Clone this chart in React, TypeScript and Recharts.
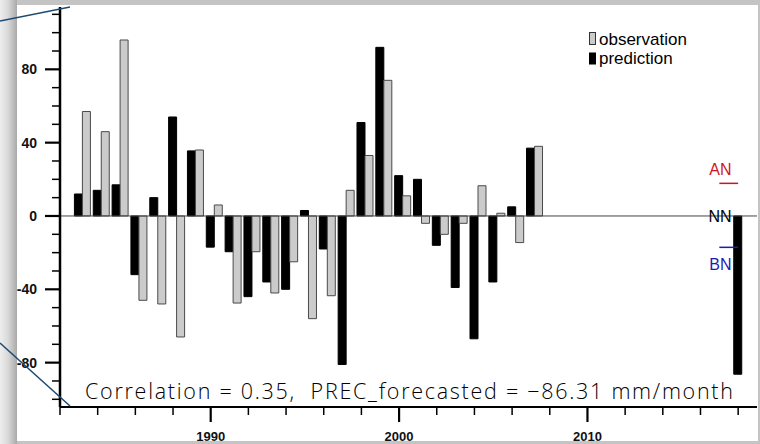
import React from 'react';
import { BarChart, Bar, XAxis, YAxis, ReferenceLine, Legend, Rectangle, Label } from 'recharts';

// ---- data ----
const years = [
  1983, 1984, 1985, 1986, 1987, 1988, 1989, 1990, 1991, 1992, 1993, 1994, 1995,
  1996, 1997, 1998, 1999, 2000, 2001, 2002, 2003, 2004, 2005, 2006, 2007, 2018,
];
const observation = [
  57, 46, 96, -46, -48, -66, 36, 6, -47.5, -19.5, -42, -25, -56,
  -43.5, 14, 33, 74, 11, -4, -10, -4, 16.5, 1.5, -14.5, 38, null,
];
const prediction = [
  12, 14, 17, -32, 10, 54, 35.5, -17, -19.5, -44, -36, -40, 3,
  -18, -81, 51, 92, 22, 20, -16, -39, -67, -36, 5, 37, -86.31,
];
const xTicks = [
  1982, 1984, 1986, 1988, 1990, 1992, 1994, 1996, 1998, 2000,
  2002, 2004, 2006, 2008, 2010, 2012, 2014, 2016, 2018,
];
const xLabelTicks = [1990, 2000, 2010];
const yTicks = [
  -100, -90, -80, -70, -60, -50, -40, -30, -20, -10, 0,
  10, 20, 30, 40, 50, 60, 70, 80, 90, 100, 110,
];
const yLabelTicks = [-80, -40, 0, 40, 80];
const xDomain = [1982, 2019];
const yDomain = [-104.2, 114];
const anThreshold = 17.8;
const bnThreshold = -17.1;
const thresholdSpan = [2017, 2018];
const correlation = 0.35;
const forecastValue = -86.31;

const data = years.map((year, i) => ({
  year,
  observation: observation[i],
  prediction: prediction[i],
}));

const FONT = 'Liberation Sans, Arial, Helvetica, sans-serif';

const makeShape = (fill: string, stroke: string) => (props: any) => {
  const { x, y, width, height } = props;
  return (
    <Rectangle
      x={x + 4}
      y={y}
      width={width}
      height={height}
      fill={fill}
      stroke={stroke}
      strokeWidth={1}
    />
  );
};
const predShape = makeShape('#000000', '#000000');
const obsShape = makeShape('#cbcbcb', '#4a4a4a');

const XTick = (props: any) => {
  const { x, y, payload } = props;
  const major = xLabelTicks.includes(payload.value);
  return (
    <g>
      <line x1={x} x2={x} y1={y} y2={y + (major ? 15 : 8)} stroke="#000" strokeWidth={major ? 2.2 : 1.5} />
      {major && (
        <text x={x} y={y + 34} textAnchor="middle" fontSize={13} fontWeight="bold" fontFamily={FONT} fill="#111">
          {payload.value}
        </text>
      )}
    </g>
  );
};

const YTick = (props: any) => {
  const { x, y, payload } = props;
  const major = yLabelTicks.includes(payload.value);
  return (
    <g>
      <line x1={x - (major ? 15 : 8)} x2={x} y1={y} y2={y} stroke="#000" strokeWidth={major ? 2.2 : 1.5} />
      {major && (
        <text x={x - 23} y={y + 5} textAnchor="end" fontSize={14} fontWeight="bold" fontFamily={FONT} fill="#111">
          {payload.value}
        </text>
      )}
    </g>
  );
};

const LegendContent = () => (
  <svg width={130} height={46}>
    <rect x={4.5} y={4.5} width={6} height={12} fill="#cbcbcb" stroke="#333" strokeWidth={1} />
    <text x={14} y={16.5} fontSize={17} fontFamily={FONT} fill="#000">observation</text>
    <rect x={4} y={24.5} width={7} height={12} fill="#000" />
    <text x={14} y={36} fontSize={17} fontFamily={FONT} fill="#000">prediction</text>
  </svg>
);

const anLabel = (p: any) => {
  const vb = p.viewBox || {};
  return (
    <text x={vb.x + 1} y={vb.y - 8} textAnchor="middle" fontSize={16} fontFamily={FONT} fill="#d0141e">AN</text>
  );
};
const bnLabel = (p: any) => {
  const vb = p.viewBox || {};
  return (
    <text x={vb.x + 1} y={vb.y + 23} textAnchor="middle" fontSize={16} fontFamily={FONT} fill="#1c1cb4">BN</text>
  );
};
const nnLabel = (p: any) => {
  const vb = p.viewBox || {};
  return (
    <text x={vb.x + vb.width - 37} y={vb.y + 6} textAnchor="middle" fontSize={16} fontFamily={FONT} fill="#000">NN</text>
  );
};

const statText = `Correlation = ${correlation.toFixed(2)},  PREC_forecasted = ${forecastValue < 0 ? '\u2212' : ''}${Math.abs(forecastValue).toFixed(2)} mm/month`;

export default function App() {
  return (
    <div style={{ position: 'absolute', left: 0, top: 0, width: 760, height: 444, background: '#c4c4c4', overflow: 'hidden' }}>
      <div
        style={{
          position: 'absolute', left: 0, top: 0, width: 17, height: 444,
          background: 'linear-gradient(to right, #eeeeee 0%, #dadada 45%, #a9a9a9 100%)',
        }}
      />
      <div style={{ position: 'absolute', left: 17, top: 5, width: 741, height: 436, background: '#ffffff' }} />
      <div style={{ position: 'absolute', left: 0, top: 0 }}>
        <BarChart
          width={760}
          height={444}
          data={data}
          margin={{ top: 7, right: 3, bottom: 7, left: 0 }}
          barGap={0}
          barCategoryGap={0}
        >
          <XAxis
            dataKey="year"
            type="number"
            domain={xDomain}
            allowDataOverflow
            ticks={xTicks}
            interval={0}
            tickSize={0}
            tickMargin={0}
            tickLine={false}
            tick={<XTick />}
            axisLine={{ stroke: '#000', strokeWidth: 2 }}
            height={30}
          />
          <XAxis
            xAxisId="top"
            orientation="top"
            dataKey="year"
            type="number"
            domain={xDomain}
            allowDataOverflow
            tick={false}
            tickLine={false}
            height={0}
            axisLine={{ stroke: '#000', strokeWidth: 2.5 }}
          />
          <YAxis
            type="number"
            domain={yDomain}
            allowDataOverflow
            ticks={yTicks}
            interval={0}
            tickSize={0}
            tickMargin={0}
            tickLine={false}
            tick={<YTick />}
            axisLine={{ stroke: '#000', strokeWidth: 2.5 }}
            width={60}
          />
          <YAxis
            yAxisId="right"
            orientation="right"
            type="number"
            domain={yDomain}
            allowDataOverflow
            tick={false}
            tickLine={false}
            width={0}
            axisLine={{ stroke: '#000', strokeWidth: 2 }}
          />
          <ReferenceLine y={0} stroke="#444" strokeWidth={1}>
            <Label content={nnLabel} />
          </ReferenceLine>
          <Bar dataKey="prediction" barSize={8} fill="#000" isAnimationActive={false} shape={predShape} />
          <Bar dataKey="observation" barSize={8} fill="#cbcbcb" isAnimationActive={false} shape={obsShape} />
          <ReferenceLine
            segment={[{ x: thresholdSpan[0], y: anThreshold }, { x: thresholdSpan[1], y: anThreshold }]}
            stroke="#d0141e"
            strokeWidth={1.5}
          >
            <Label content={anLabel} />
          </ReferenceLine>
          <ReferenceLine
            segment={[{ x: thresholdSpan[0], y: bnThreshold }, { x: thresholdSpan[1], y: bnThreshold }]}
            stroke="#1c1cb4"
            strokeWidth={1.5}
          >
            <Label content={bnLabel} />
          </ReferenceLine>
          <Legend
            layout="vertical"
            align="center"
            verticalAlign="middle"
            wrapperStyle={{ left: 585, top: 28, width: 130, height: 46 }}
            content={LegendContent}
          />
        </BarChart>
      </div>
      <svg style={{ position: 'absolute', left: 0, top: 0, pointerEvents: 'none' }} width={760} height={444}>
        <text
          x={85}
          y={399}
          fontSize={21.5}
          fontWeight={300}
          fontFamily="Open Sans, DejaVu Sans, sans-serif"
          fill="#000"
          textLength={648}
          lengthAdjust="spacing"
          style={{ whiteSpace: 'pre' }}
        >
          {statText}
        </text>
        <line x1={0} y1={21} x2={70} y2={7} stroke="#1d4a72" strokeWidth={1.5} />
        <line x1={0} y1={343} x2={70} y2={406} stroke="#1d4a72" strokeWidth={1.5} />
      </svg>
    </div>
  );
}
